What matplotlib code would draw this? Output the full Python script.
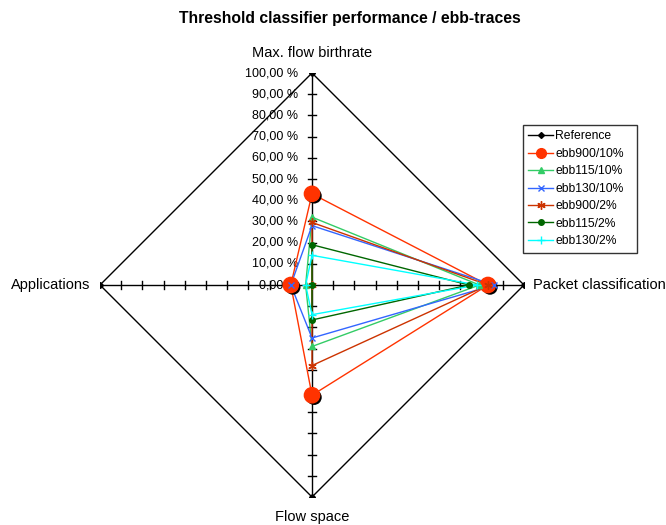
import matplotlib.pyplot as plt
import matplotlib.patheffects as pe
import numpy as np

plt.rcParams['font.family'] = ['Liberation Sans', 'DejaVu Sans']

categories = ["Max. flow birthrate", "Packet classification", "Flow space", "Applications"]
tick_values = [0, 10, 20, 30, 40, 50, 60, 70, 80, 90, 100]
tick_labels = ["0,00 %", "10,00 %", "20,00 %", "30,00 %", "40,00 %", "50,00 %",
               "60,00 %", "70,00 %", "80,00 %", "90,00 %", "100,00 %"]

# values in percent, one per category (clockwise from the top)
reference = [100, 100, 100, 100]
ebb900_10 = [43, 83, 52, 10]
ebb115_10 = [32, 79, 29, 3]
ebb130_10 = [28, 86, 25, 10]
ebb900_2 = [29.5, 83, 38, 0]
ebb115_2 = [19, 74, 16.5, 0]
ebb130_2 = [14, 78, 14, 3]

series = [
    ("Reference", reference, dict(color="black", marker="D", ms=3)),
    ("ebb900/10%", ebb900_10, dict(color="#FF3300", marker="o", ms=11)),
    ("ebb115/10%", ebb115_10, dict(color="#33CC66", marker="^", ms=4)),
    ("ebb130/10%", ebb130_10, dict(color="#3366FF", marker="x", ms=5)),
    ("ebb900/2%", ebb900_2, dict(color="#CC3300", marker=(6, 2, 0), ms=6)),
    ("ebb115/2%", ebb115_2, dict(color="#006600", marker="o", ms=4)),
    ("ebb130/2%", ebb130_2, dict(color="#00FFFF", marker="+", ms=6)),
]

angles = np.arange(len(categories)) * np.pi / 2


def to_xy(vals):
    r = np.append(vals, vals[0]) / 100.0
    a = np.append(angles, angles[0])
    return r * np.sin(a), r * np.cos(a)


fig = plt.figure(figsize=(6.66, 5.25), dpi=100)
ax = fig.add_axes([100 / 666, 28 / 525, 424 / 666, 424 / 525])
ax.set_xlim(-1, 1)
ax.set_ylim(-1, 1)
ax.set_aspect("equal")
ax.axis("off")

# spokes with tick marks
tk = 4 / 212
for a in angles:
    dx, dy = np.sin(a), np.cos(a)
    ax.plot([0, dx], [0, dy], color="black", lw=1, zorder=1)
    for v in tick_values[1:-1]:
        r = v / 100
        ax.plot([r * dx - tk * dy, r * dx + tk * dy], [r * dy + tk * dx, r * dy - tk * dx],
                color="black", lw=1, zorder=1)

for v, lab in zip(tick_values, tick_labels):
    ax.text(-14 / 212, v / 100, lab, ha="right", va="center", fontsize=9)

# category labels
ax.text(0, 1 + 20 / 212, categories[0], ha="center", va="center", fontsize=10.5)
ax.text(1 + 9 / 212, 0, categories[1], ha="left", va="center", fontsize=10.5)
ax.text(0, -1 - 20 / 212, categories[2], ha="center", va="center", fontsize=10.5)
ax.text(-1 - 10 / 212, 0, categories[3], ha="right", va="center", fontsize=10.5)

shadow = [pe.SimplePatchShadow(offset=(1.5, -1.5), shadow_rgbFace="black", alpha=1), pe.Normal()]
handles = []
for i, (name, vals, st) in enumerate(series):
    x, y = to_xy(vals)
    ax.plot(x, y, color=st["color"], lw=1, zorder=2 + i)
    mk = ax.plot(x[:-1], y[:-1], ls="none", marker=st["marker"], ms=st["ms"],
                 color=st["color"], mec=st["color"], zorder=10 + i)
    if name == "ebb900/10%":
        mk[0].set_path_effects(shadow)
    h, = ax.plot([], [], color=st["color"], lw=1, marker=st["marker"],
                 ms=min(st["ms"], 7), mec=st["color"], label=name)
    handles.append(h)

# legend box stretched to a fixed width on the right
leg = fig.legend(handles=handles, loc="upper left", mode="expand",
                 bbox_to_anchor=(523 / 666, 0, 114 / 666, 1 - 125 / 525),
                 borderaxespad=0, fontsize=8.7, frameon=True, fancybox=False, edgecolor="black",
                 handlelength=2.0, handletextpad=0.2, borderpad=0.45, labelspacing=0.45)
leg.get_frame().set_linewidth(1)

fig.text(350 / 666, 1 - 18 / 525, "Threshold classifier performance / ebb-traces",
         ha="center", va="center", fontsize=11.3, fontweight="bold")

fig.savefig("out.png", dpi=100)
